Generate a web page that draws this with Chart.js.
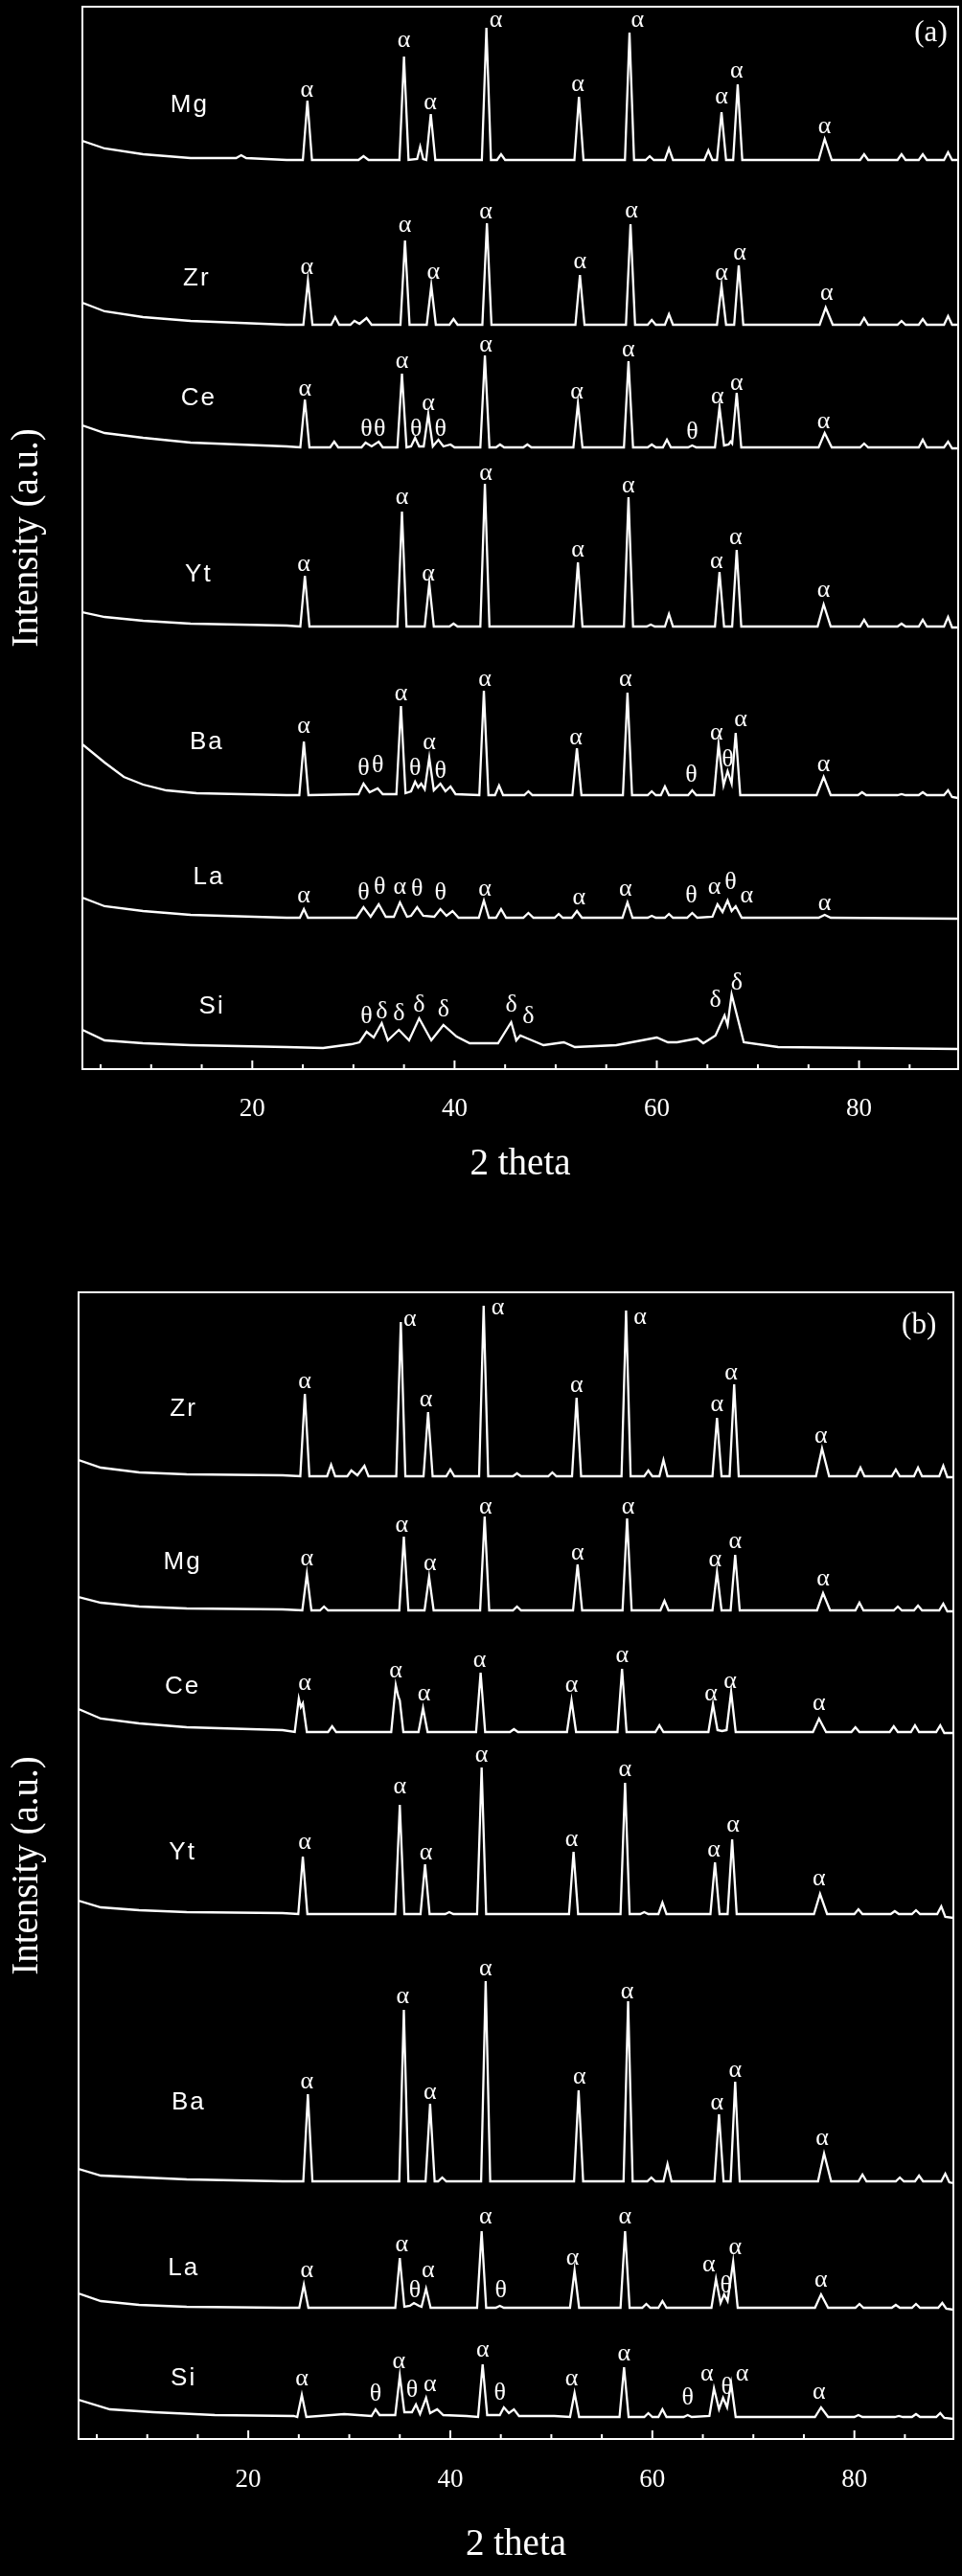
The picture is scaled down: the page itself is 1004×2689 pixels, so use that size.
<!DOCTYPE html>
<html>
<head>
    <title>XRD patterns</title>
    <script src="https://cdn.jsdelivr.net/npm/chart.js"></script>
    <style>
        body { margin: 0; background: #000; }
        canvas { position: absolute; left: 0; }
        #chartA { top: 0; }
        #chartB { top: 1300px; }
    </style>
</head>
<body>
    <canvas id="chartA" width="1004" height="1300" style="width:1004px;height:1300px"></canvas>
    <canvas id="chartB" width="1004" height="1389" style="width:1004px;height:1389px"></canvas>

    <script>
        // x axis (2 theta)
        const xTickLabels = [20, 40, 60, 80];
        const xMinorTicks = [5, 10, 15, 20, 25, 30, 35, 40, 45, 50, 55, 60, 65, 70, 75, 80, 85];

        // ---- panel (a): [2theta, stacked intensity] ----
        const aMg = [[3.2,969],[5.4,961],[9.2,955],[13.9,951],[18.4,951],[18.9,954],[19.4,951],[23.4,949],
            [25.0,949],[25.45,1011],[25.9,949],[30.5,949],[31.0,953],[31.5,949],
            [34.55,949],[35.0,1057],[35.45,949],[36.3,950],[36.6,963],[36.9,950],
            [37.2,949],[37.65,997],[38.1,949],[42.7,949],[43.15,1087],[43.6,949],
            [44.2,949],[44.6,955],[45.0,949],[51.85,949],[52.3,1015],[52.75,949],
            [56.85,949],[57.3,1082],[57.75,949],[58.9,949],[59.3,953],[59.7,949],
            [60.8,949],[61.2,961],[61.6,949],[64.7,949],[65.1,959],[65.5,949],
            [65.95,949],[66.4,999],[66.85,949],[67.55,949],[68.0,1028],[68.45,949],
            [76.0,949],[76.6,971],[77.3,949],[80.1,949],[80.5,955],[80.9,949],
            [83.8,949],[84.2,955],[84.6,949],[85.9,949],[86.3,955],[86.7,949],
            [88.4,949],[88.8,957],[89.2,949],[89.8,949]];
        const aZr = [[3.2,800],[5.4,791],[9.2,785],[13.9,781],[23.4,777],
            [25.05,777],[25.5,823],[25.95,777],[27.8,777],[28.2,785],[28.6,777],
            [29.7,777],[30.1,781],[30.6,778],[31.3,784],[31.8,777],
            [34.65,777],[35.1,865],[35.55,777],[37.25,777],[37.7,818],[38.15,777],
            [39.5,777],[39.9,783],[40.3,777],[42.75,777],[43.2,883],[43.65,777],
            [51.95,777],[52.4,829],[52.85,777],[56.95,777],[57.4,882],[57.85,777],
            [59.1,777],[59.5,782],[59.9,777],[60.8,777],[61.2,788],[61.6,777],
            [65.95,777],[66.4,818],[66.85,777],[67.65,777],[68.1,839],[68.55,777],
            [76.1,777],[76.7,795],[77.4,777],[80.1,777],[80.5,784],[80.9,777],
            [83.8,777],[84.2,781],[84.6,777],[85.9,777],[86.3,783],[86.7,777],
            [88.4,777],[88.8,786],[89.2,777],[89.8,777]];
        const aCe = [[3.2,672],[5.4,664],[9.2,659],[13.9,654],[23.4,650],
            [24.75,649],[25.2,699],[25.65,649],[27.7,649],[28.1,655],[28.5,649],
            [30.8,649],[31.2,654],[31.8,650],[32.5,655],[32.9,649],
            [34.35,649],[34.8,726],[35.25,649],[35.7,650],[36.1,659],[36.5,650],
            [36.95,650],[37.4,684],[37.85,650],[38.4,657],[38.9,650],[39.6,652],[40.0,649],
            [42.55,649],[43.0,745],[43.45,649],[44.1,649],[44.5,652],[44.9,649],
            [46.8,649],[47.2,652],[47.6,649],[51.75,649],[52.2,695],[52.65,649],
            [56.75,649],[57.2,739],[57.65,649],[59.1,649],[59.5,652],[59.9,649],
            [60.6,649],[61.0,657],[61.4,649],[63.1,649],[63.5,651],[63.9,649],
            [65.75,649],[66.2,691],[66.65,651],[67.1,652],[67.3,655],[67.45,653],
            [67.9,706],[68.35,649],[76.0,649],[76.6,664],[77.3,649],
            [80.1,649],[80.5,653],[80.9,649],[85.9,649],[86.3,657],[86.7,649],
            [88.4,649],[88.8,655],[89.2,648],[89.8,648]];
        const aYt = [[3.2,477],[5.4,472],[9.2,468],[13.9,465],[23.4,463],
            [24.75,462],[25.2,515],[25.65,462],[34.35,462],[34.8,582],[35.25,462],
            [37.05,462],[37.5,507],[37.95,462],[39.5,462],[39.9,465],[40.3,462],
            [42.55,462],[43.0,611],[43.45,462],[51.75,462],[52.2,529],[52.65,462],
            [56.75,462],[57.2,597],[57.65,462],[59.0,462],[59.4,464],[59.8,462],
            [60.8,462],[61.2,475],[61.6,462],[65.75,462],[66.2,519],[66.65,462],
            [67.45,462],[67.9,542],[68.35,462],[75.9,462],[76.5,485],[77.2,462],
            [80.1,462],[80.5,469],[80.9,462],[83.8,462],[84.2,465],[84.6,462],
            [85.9,462],[86.3,469],[86.7,462],[88.4,462],[88.8,472],[89.2,461],[89.8,461]];
        const aBa = [[3.2,339],[5.4,320],[7.3,305],[9.2,297],[11.5,291],[14.5,288],[23.4,286],
            [24.65,286],[25.1,342],[25.55,286],[30.5,287],[31.0,298],[31.6,289],[32.4,293],[32.9,287],
            [34.25,287],[34.7,379],[35.15,288],[35.7,290],[36.1,300],[36.4,294],[36.7,298],[37.05,292],
            [37.5,325],[37.95,291],[38.6,298],[39.1,290],[39.6,295],[40.1,287],
            [42.45,286],[42.9,395],[43.35,286],[44.0,286],[44.4,296],[44.8,286],
            [46.9,286],[47.3,290],[47.7,286],[51.65,286],[52.1,335],[52.55,286],
            [56.65,286],[57.1,393],[57.55,286],[59.1,286],[59.5,290],[59.9,286],
            [60.4,286],[60.8,295],[61.2,286],[63.1,286],[63.5,291],[63.9,286],
            [65.65,286],[66.1,339],[66.6,296],[67.0,311],[67.4,298],[67.8,351],[68.25,286],
            [75.8,286],[76.5,305],[77.2,286],[79.9,286],[80.3,289],[80.7,286],
            [83.8,286],[84.2,287],[84.6,286],[85.9,286],[86.3,289],[86.7,286],
            [88.4,286],[88.8,291],[89.2,284],[89.8,283]];
        const aLa = [[3.2,179],[5.4,170],[9.2,165],[13.9,161],[23.4,158],
            [24.7,158],[25.1,167],[25.5,158],[30.3,158],[31.0,169],[31.7,159],[32.5,172],[33.2,159],
            [34.0,159],[34.6,174],[35.3,159],[35.7,160],[36.3,169],[36.9,160],
            [38.0,159],[38.6,167],[39.2,160],[39.8,165],[40.4,158],
            [42.4,158],[42.9,176],[43.4,158],[44.1,158],[44.6,167],[45.1,158],
            [46.8,158],[47.3,163],[47.8,158],[49.9,158],[50.3,162],[50.7,158],
            [51.6,158],[52.1,165],[52.6,158],[56.6,158],[57.1,174],[57.6,158],
            [59.1,158],[59.5,160],[59.9,158],[60.8,158],[61.2,162],[61.6,158],
            [63.0,158],[63.5,163],[64.0,158],
            [65.5,159],[66.0,172],[66.5,164],[67.0,176],[67.4,165],[67.8,170],[68.4,158],
            [76.0,158],[76.6,161],[77.2,158],[89.8,157]];
        const aSi = [[3.2,41],[5.4,30],[9.2,27],[13.9,25],[23.4,23],[27.0,22],[29.8,26],[30.6,28],
            [31.3,39],[32.0,33],[32.8,48],[33.4,30],[34.5,41],[35.5,30],[36.5,53],[37.7,30],
            [38.9,46],[40.2,34],[41.5,27],[44.3,27],[45.6,49],[46.1,30],[46.5,35],[47.2,32],
            [48.8,25],[50.8,28],[51.9,23],[56.0,25],[60.0,33],[61.1,28],[62.0,28],[64.0,32],
            [64.6,27],[65.8,35],[66.7,56],[67.0,46],[67.4,78],[68.0,53],[68.6,28],[72.0,23],[89.8,21]];

        // peak phase marks of panel (a): [2theta, height, symbol]
        const aMarks = [
            [25.4,1022,'α'],[35.0,1074,'α'],[37.6,1009,'α'],[44.1,1095,'α'],[52.2,1028,'α'],[58.1,1095,'α'],[66.4,1015,'α'],[67.9,1042,'α'],[76.6,984,'α'],
            [25.4,837,'α'],[35.1,881,'α'],[37.9,832,'α'],[43.1,895,'α'],[52.4,843,'α'],[57.5,896,'α'],[66.4,831,'α'],[68.2,852,'α'],[76.8,810,'α'],
            [25.2,710,'α'],[31.3,668,'θ'],[32.6,668,'θ'],[34.8,739,'α'],[36.2,668,'θ'],[37.4,695,'α'],[38.6,668,'θ'],[43.1,756,'α'],[52.1,707,'α'],[57.2,751,'α'],[63.5,665,'θ'],[66.0,702,'α'],[67.9,716,'α'],[76.5,676,'α'],
            [25.1,527,'α'],[34.8,597,'α'],[37.4,517,'α'],[43.1,622,'α'],[52.2,542,'α'],[57.2,609,'α'],[65.9,530,'α'],[67.8,555,'α'],[76.5,500,'α'],
            [25.1,358,'α'],[31.0,314,'θ'],[32.4,317,'θ'],[34.7,392,'α'],[36.1,314,'θ'],[37.5,341,'α'],[38.6,311,'θ'],[43.0,407,'α'],[52.0,346,'α'],[56.9,407,'α'],[63.4,307,'θ'],[65.9,351,'α'],[67.0,323,'θ'],[68.3,365,'α'],[76.5,318,'α'],
            [25.1,181,'α'],[31.0,184,'θ'],[32.6,190,'θ'],[34.6,190,'α'],[36.3,188,'θ'],[38.6,184,'θ'],[43.0,188,'α'],[52.3,179,'α'],[56.9,188,'α'],[63.4,181,'θ'],[65.7,190,'α'],[67.3,195,'θ'],[68.9,181,'α'],[76.6,173,'α'],
            [31.3,55,'θ'],[32.8,60,'δ'],[34.5,58,'δ'],[36.5,67,'δ'],[38.9,62,'δ'],[45.6,67,'δ'],[47.3,55,'δ'],[65.8,72,'δ'],[67.9,90,'δ']
        ];
        const aNames = [[13.8,1006,'Mg'],[14.5,825,'Zr'],[14.7,700,'Ce'],[14.7,516,'Yt'],[15.5,341,'Ba'],[15.7,200,'La'],[16.0,65,'Si']];

        // ---- panel (b) ----
        const bZr = [[3.2,1022],[5.4,1014],[9.2,1009],[13.9,1007],[23.4,1006],
            [25.15,1005],[25.6,1091],[26.05,1005],[27.8,1005],[28.2,1017],[28.6,1005],
            [29.8,1005],[30.2,1011],[30.8,1006],[31.5,1016],[31.9,1005],
            [34.65,1005],[35.1,1166],[35.55,1005],[37.35,1005],[37.8,1072],[38.25,1005],
            [39.6,1005],[40.0,1012],[40.4,1005],[42.85,1005],[43.3,1183],[43.75,1005],
            [46.2,1005],[46.6,1008],[47.0,1005],[49.7,1005],[50.1,1009],[50.5,1005],
            [52.05,1005],[52.5,1087],[52.95,1005],[56.95,1005],[57.4,1178],[57.85,1005],
            [59.2,1005],[59.6,1011],[60.0,1005],[60.7,1005],[61.1,1022],[61.5,1005],
            [65.95,1005],[66.4,1066],[66.85,1005],[67.65,1005],[68.1,1101],[68.55,1005],
            [76.2,1005],[76.8,1034],[77.5,1005],[80.2,1005],[80.6,1014],[81.0,1005],
            [83.7,1005],[84.1,1012],[84.5,1005],[85.9,1005],[86.3,1014],[86.7,1005],
            [88.4,1005],[88.8,1016],[89.2,1004],[89.8,1004]];
        const bMg = [[3.2,879],[5.4,873],[9.2,869],[13.9,867],[23.4,866],
            [25.35,865],[25.8,903],[26.25,865],[27.1,865],[27.5,869],[27.9,865],
            [34.95,865],[35.4,942],[35.85,865],[37.45,865],[37.9,900],[38.35,865],
            [42.95,865],[43.4,963],[43.85,865],[46.2,865],[46.6,869],[47.0,865],
            [52.15,865],[52.6,913],[53.05,865],[57.05,865],[57.5,961],[57.95,865],
            [60.8,865],[61.2,875],[61.6,865],[65.95,865],[66.4,905],[66.85,865],
            [67.75,865],[68.2,923],[68.65,865],[76.3,865],[76.9,883],[77.6,865],
            [80.1,865],[80.5,873],[80.9,865],[83.9,865],[84.3,869],[84.7,865],
            [85.9,865],[86.3,870],[86.7,865],[88.4,865],[88.8,872],[89.2,864],[89.8,864]];
        const bCe = [[3.2,762],[5.4,752],[9.2,747],[13.9,743],[23.4,740],
            [24.6,738],[25.0,773],[25.2,764],[25.4,768],[25.8,738],[27.9,738],[28.3,744],[28.7,738],
            [34.15,738],[34.6,787],[34.85,775],[35.0,771],[35.35,738],
            [36.85,738],[37.3,763],[37.75,738],[42.55,738],[43.0,800],[43.45,738],
            [45.9,738],[46.3,741],[46.7,738],[51.55,738],[52.0,771],[52.45,738],
            [56.55,738],[57.0,804],[57.45,738],[60.3,738],[60.7,745],[61.1,738],
            [65.55,738],[66.0,767],[66.45,740],[66.9,739],[67.35,740],[67.8,780],[68.25,738],
            [75.9,738],[76.5,752],[77.2,738],[79.7,738],[80.1,743],[80.5,738],
            [83.5,738],[83.9,744],[84.3,738],[85.6,738],[86.0,745],[86.4,738],
            [88.1,738],[88.5,745],[88.9,737],[89.8,737]];
        const bYt = [[3.2,562],[5.4,555],[9.2,552],[13.9,550],[23.4,549],
            [24.95,548],[25.4,608],[25.85,548],[34.55,548],[35.0,662],[35.45,548],
            [37.05,548],[37.5,600],[37.95,548],[39.5,548],[39.9,550],[40.3,548],
            [42.65,548],[43.1,701],[43.55,548],[51.75,548],[52.2,613],[52.65,548],
            [56.85,548],[57.3,685],[57.75,548],[58.8,548],[59.2,550],[59.6,548],
            [60.6,548],[61.0,560],[61.4,548],[65.75,548],[66.2,602],[66.65,548],
            [67.45,548],[67.9,626],[68.35,548],[76.0,548],[76.6,569],[77.3,548],
            [80.0,548],[80.4,553],[80.8,548],[83.6,548],[84.0,551],[84.4,548],
            [85.7,548],[86.1,552],[86.5,548],[88.2,548],[88.6,556],[89.0,545],[89.8,544]];
        const bBa = [[3.2,282],[5.4,275],[13.9,271],[23.4,269],
            [25.45,269],[25.9,360],[26.35,269],[34.95,269],[35.4,448],[35.85,269],
            [37.55,269],[38.0,350],[38.45,269],[38.8,269],[39.2,273],[39.6,269],
            [43.05,269],[43.5,478],[43.95,269],[52.25,269],[52.7,364],[53.15,269],
            [57.15,269],[57.6,457],[58.05,269],[59.5,269],[59.9,273],[60.3,269],
            [61.1,269],[61.5,287],[61.9,269],[66.15,269],[66.6,339],[67.05,269],
            [67.75,269],[68.2,373],[68.65,269],[76.4,269],[77.0,298],[77.7,269],
            [80.4,269],[80.8,276],[81.2,269],[84.1,269],[84.5,273],[84.9,269],
            [86.0,269],[86.4,275],[86.8,269],[88.6,269],[89.0,277],[89.4,268],[89.8,267]];
        const bLa = [[3.2,152],[5.4,144],[9.2,140],[13.9,138],[23.4,137],
            [25.05,137],[25.5,161],[25.95,137],[34.55,137],[35.0,189],[35.45,138],
            [36.0,139],[36.4,142],[36.9,139],[37.15,138],[37.6,157],[38.05,137],
            [42.65,137],[43.1,217],[43.55,137],[44.5,137],[44.9,139],[45.3,137],
            [51.85,137],[52.3,176],[52.75,137],[56.85,137],[57.3,217],[57.75,137],
            [59.0,137],[59.4,141],[59.8,137],[60.6,137],[61.0,144],[61.4,137],
            [65.85,137],[66.3,167],[66.75,142],[67.1,151],[67.45,144],[68.0,185],[68.45,137],
            [76.1,137],[76.7,151],[77.4,137],[80.1,137],[80.5,141],[80.9,137],
            [83.7,137],[84.1,140],[84.5,137],[85.7,137],[86.1,141],[86.5,137],
            [88.3,137],[88.7,142],[89.1,136],[89.8,135]];
        const bSi = [[3.2,41],[6.3,31],[10.6,28],[16.7,25],[24.5,24],
            [24.85,23],[25.3,46],[25.75,23],[29.5,26],[32.2,24],[32.6,31],[33.0,25],
            [34.55,25],[35.0,66],[35.45,28],[36.2,28],[36.6,36],[37.0,26],
            [37.6,43],[38.0,27],[38.7,31],[39.3,25],[41.6,24],
            [42.75,23],[43.2,78],[43.65,25],[44.9,25],[45.3,33],[45.8,27],[46.3,31],[46.8,24],
            [50.3,24],[51.85,23],[52.3,48],[52.75,23],[56.75,23],[57.2,75],[57.65,23],
            [59.2,23],[59.6,27],[60.0,23],[60.6,23],[61.0,31],[61.4,23],
            [63.1,23],[63.5,25],[63.9,23],
            [65.65,24],[66.1,53],[66.6,31],[67.0,43],[67.4,33],[67.8,58],[68.25,23],
            [76.1,23],[76.7,33],[77.4,23],[80.0,23],[80.4,25],[80.8,23],
            [84.0,23],[84.4,24],[84.8,23],[85.7,23],[86.1,26],[86.5,23],
            [88.1,23],[88.5,27],[88.9,22],[89.8,21]];

        const bMarks = [
            [25.6,1104,'α'],[36.0,1169,'α'],[37.6,1085,'α'],[44.7,1181,'α'],[52.5,1100,'α'],[58.8,1171,'α'],[66.4,1080,'α'],[67.8,1113,'α'],[76.7,1047,'α'],
            [25.8,919,'α'],[35.2,954,'α'],[38.0,914,'α'],[43.5,973,'α'],[52.6,925,'α'],[57.6,973,'α'],[66.2,918,'α'],[68.2,937,'α'],[76.9,898,'α'],
            [25.6,789,'α'],[34.6,802,'α'],[37.4,778,'α'],[42.9,813,'α'],[52.0,787,'α'],[57.0,818,'α'],[65.8,778,'α'],[67.7,791,'α'],[76.5,768,'α'],
            [25.6,623,'α'],[35.0,681,'α'],[37.6,612,'α'],[43.1,714,'α'],[52.0,626,'α'],[57.3,699,'α'],[66.1,615,'α'],[68.0,641,'α'],[76.5,585,'α'],
            [25.8,373,'α'],[35.3,462,'α'],[38.0,362,'α'],[43.5,491,'α'],[52.8,378,'α'],[57.5,467,'α'],[66.4,351,'α'],[68.2,385,'α'],[76.8,314,'α'],
            [25.8,176,'α'],[35.2,203,'α'],[36.5,155,'θ'],[37.8,176,'α'],[43.5,232,'α'],[45.0,155,'θ'],[52.1,189,'α'],[57.3,232,'α'],[65.6,182,'α'],[67.3,160,'θ'],[68.2,200,'α'],[76.7,166,'α'],
            [25.3,63,'α'],[32.6,47,'θ'],[34.9,81,'α'],[36.2,51,'θ'],[38.0,57,'α'],[43.2,93,'α'],[44.9,48,'θ'],[52.0,63,'α'],[57.2,89,'α'],[63.5,43,'θ'],[65.4,68,'α'],[67.4,54,'θ'],[68.9,68,'α'],[76.5,49,'α']
        ];
        const bNames = [[13.6,1075,'Zr'],[13.5,915,'Mg'],[13.5,785,'Ce'],[13.5,612,'Yt'],[14.1,351,'Ba'],[13.6,178,'La'],[13.6,63,'Si']];

        // draws the frame, the inward ticks and all the text marks
        function makeDecor(marks, names, tag) {
            return {
                id: 'decor',
                afterDatasetsDraw(chart) {
                    const { ctx, chartArea: a, scales: { x, y } } = chart;
                    ctx.save();
                    ctx.strokeStyle = '#fff';
                    ctx.lineWidth = 2;
                    ctx.strokeRect(a.left, a.top, a.right - a.left, a.bottom - a.top);
                    xMinorTicks.forEach(v => {
                        const px = x.getPixelForValue(v);
                        const len = xTickLabels.includes(v) ? 9 : 5;
                        ctx.beginPath();
                        ctx.moveTo(px, a.bottom);
                        ctx.lineTo(px, a.bottom - len);
                        ctx.stroke();
                    });
                    ctx.fillStyle = '#fff';
                    ctx.textAlign = 'center';
                    ctx.textBaseline = 'middle';
                    ctx.font = '26px "Liberation Serif"';
                    marks.forEach(([vx, vy, s]) => ctx.fillText(s, x.getPixelForValue(vx), y.getPixelForValue(vy)));
                    ctx.font = '26px "Liberation Sans"';
                    ctx.letterSpacing = '2px';
                    names.forEach(([vx, vy, s]) => ctx.fillText(s, x.getPixelForValue(vx), y.getPixelForValue(vy)));
                    ctx.letterSpacing = '0px';
                    ctx.font = '31px "Liberation Serif"';
                    ctx.fillText(tag[2], x.getPixelForValue(tag[0]), y.getPixelForValue(tag[1]));
                    ctx.restore();
                }
            };
        }

        const config = (series, marks, names, tag, p) => ({
            type: 'line',
            data: {
                datasets: series.map(s => ({
                    data: s,
                    borderColor: '#fff',
                    borderWidth: 2.3,
                    pointRadius: 0,
                    tension: 0,
                    fill: false
                }))
            },
            options: {
                responsive: false,
                animation: false,
                devicePixelRatio: 1,
                layout: { padding: { top: p.top, right: p.right, left: 0, bottom: 0 } },
                plugins: { legend: { display: false }, tooltip: { enabled: false } },
                scales: {
                    x: {
                        type: 'linear',
                        min: 3.2,
                        max: 89.8,
                        afterBuildTicks: s => { s.ticks = xTickLabels.map(v => ({ value: v })); },
                        afterFit: s => { s.height = p.xHeight; },
                        grid: { display: false, drawTicks: false },
                        border: { display: false },
                        ticks: { color: '#fff', padding: p.tickPad, font: { family: 'Liberation Serif', size: 27 } },
                        title: {
                            display: true, text: '2 theta', color: '#fff',
                            font: { family: 'Liberation Serif', size: 39 },
                            padding: { top: 0, bottom: p.titlePad }
                        }
                    },
                    y: {
                        min: 0,
                        max: p.yMax,
                        afterFit: s => { s.width = p.yWidth; },
                        grid: { display: false, drawTicks: false },
                        border: { display: false },
                        ticks: { display: false },
                        title: {
                            display: true, text: 'Intensity (a.u.)', color: '#fff',
                            font: { family: 'Liberation Serif', size: 39 },
                            padding: { top: 5, bottom: 0 }
                        }
                    }
                }
            },
            plugins: [makeDecor(marks, names, tag)]
        });

        new Chart(document.getElementById('chartA'),
            config([aMg, aZr, aCe, aYt, aBa, aLa, aSi], aMarks, aNames, [87.1, 1081, '(a)'],
                { top: 7, right: 4, yWidth: 86, xHeight: 184, yMax: 1109, tickPad: 26, titlePad: 61 }));
        new Chart(document.getElementById('chartB'),
            config([bZr, bMg, bCe, bYt, bBa, bLa, bSi], bMarks, bNames, [86.4, 1162, '(b)'],
                { top: 49, right: 9, yWidth: 82, xHeight: 143, yMax: 1197, tickPad: 27, titlePad: 9 }));
    </script>
</body>
</html>
